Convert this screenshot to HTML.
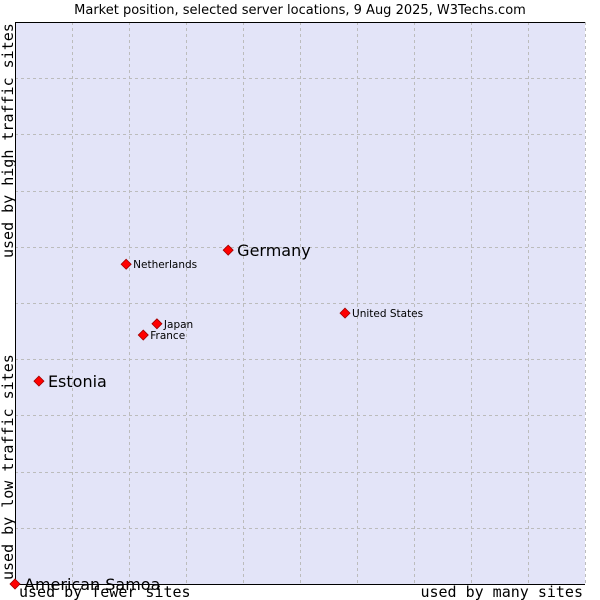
<!DOCTYPE html>
<html><head><meta charset="utf-8"><style>
body{margin:0;background:#fff;}
svg{display:block;}
</style></head><body>
<svg id="chart" width="600" height="600" xmlns="http://www.w3.org/2000/svg">
<text x="300" y="14" text-anchor="middle" font-family="DejaVu Sans, sans-serif" font-size="13" fill="#000">Market position, selected server locations, 9 Aug 2025, W3Techs.com</text>
<rect x="15" y="22" width="570" height="562" fill="#e3e4f8" stroke="none"/>
<g id="grid"></g>
<line x1="15.5" y1="22" x2="15.5" y2="585" stroke="#000"/>
<line x1="15" y1="584.5" x2="585" y2="584.5" stroke="#000"/>
<line x1="15" y1="22.5" x2="585" y2="22.5" stroke="#000"/>
<text x="19" y="597" font-family="DejaVu Sans Mono, monospace" font-size="15">used by fewer sites</text>
<text x="583" y="597" text-anchor="end" font-family="DejaVu Sans Mono, monospace" font-size="15">used by many sites</text>
<text transform="translate(13,580) rotate(-90)" font-family="DejaVu Sans Mono, monospace" font-size="15">used by low traffic sites</text>
<text transform="translate(13,258) rotate(-90)" font-family="DejaVu Sans Mono, monospace" font-size="15">used by high traffic sites</text>
<g id="points"></g>
</svg>
<script>
const countries = ["American Samoa","Estonia","Germany","Netherlands","Japan","France","United States"];
const xValues = [0, 4.2, 37.4, 19.5, 24.9, 22.5, 57.9];
const yValues = [0, 36.1, 59.4, 56.9, 46.3, 44.3, 48.2];
const bigLabel = [true, true, true, false, false, false, false];

const X0=15, X1=585, Y0=584, Y1=22;
const sx = v => X0 + v/100*(X1-X0);
const sy = v => Y0 - v/100*(Y0-Y1);
const NS="http://www.w3.org/2000/svg";
const grid=document.getElementById('grid');
for(let i=1;i<=10;i++){
  const v=i*10;
  const l=document.createElementNS(NS,'line');
  
  
  const x=Math.round(sx(v))+0.5;
  l.setAttribute('x1',x);l.setAttribute('x2',x);l.setAttribute('y1',Y1);l.setAttribute('y2',Y0);
  l.setAttribute('stroke','#bcbcbc');l.setAttribute('stroke-dasharray','3,3');
  grid.appendChild(l);
  const h=document.createElementNS(NS,'line');
  
  
  const y=Math.round(sy(v))+0.5;
  h.setAttribute('x1',X0);h.setAttribute('x2',X1);h.setAttribute('y1',y);h.setAttribute('y2',y);
  h.setAttribute('stroke','#bcbcbc');h.setAttribute('stroke-dasharray','3,3');
  grid.appendChild(h);
}
const pts=document.getElementById('points');
countries.forEach((c,i)=>{
  const x=sx(xValues[i]), y=sy(yValues[i]);
  const p=document.createElementNS(NS,'polygon');
  
  
  p.setAttribute('points',`${x},${y-5} ${x+5},${y} ${x},${y+5} ${x-5},${y}`);
  p.setAttribute('fill','#ff0000');p.setAttribute('stroke','#a00000');p.setAttribute('stroke-width','0.8');
  pts.appendChild(p);
  const t=document.createElementNS(NS,'text');
  
  
  t.setAttribute('x',x+(bigLabel[i]?9:7));
  t.setAttribute('y',y+(bigLabel[i]?6:4));
  t.setAttribute('font-family','DejaVu Sans, sans-serif');
  t.setAttribute('font-size',bigLabel[i]?'16':'10.5');
  t.textContent=c;
  pts.appendChild(t);
});
</script>
</body></html>
